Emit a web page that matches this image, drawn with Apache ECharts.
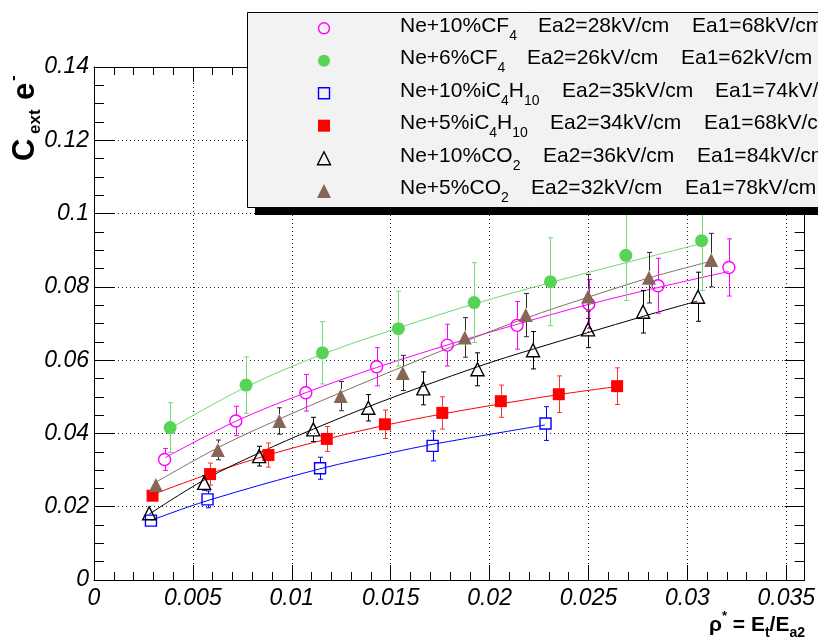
<!DOCTYPE html>
<html><head><meta charset="utf-8">
<script src="https://cdn.jsdelivr.net/npm/echarts@6/dist/echarts.min.js"></script>
<style>html,body{margin:0;padding:0;background:#fff}#c{width:818px;height:639px}</style>
</head><body><div id="c"></div>
<script>
// ---------------- data ----------------
const xTicks = [0, 0.005, 0.01, 0.015, 0.02, 0.025, 0.03, 0.035];
const yTicks = [0, 0.02, 0.04, 0.06, 0.08, 0.1, 0.12, 0.14];

// Ne+10%CF4  (magenta open circles)
const cf4_10_rho = [0.00357, 0.00717, 0.01071, 0.01429, 0.01786, 0.02139, 0.02502, 0.02852, 0.0321];
const cf4_10_C   = [0.0329, 0.0434, 0.0511, 0.0582, 0.0641, 0.0695, 0.0753, 0.0803, 0.0853];
const cf4_10_err = [0.0030, 0.0040, 0.0050, 0.0052, 0.0057, 0.0065, 0.0067, 0.0075, 0.0078];
const cf4_10_fitRho = [0.0036, 0.0072, 0.0107, 0.0143, 0.0179, 0.0214, 0.0250, 0.0285, 0.0321];
const cf4_10_fitC   = [0.0334, 0.0434, 0.0511, 0.0580, 0.0642, 0.0698, 0.0752, 0.0798, 0.0842];

// Ne+6%CF4  (green filled circles)
const cf4_6_rho = [0.00385, 0.00769, 0.01155, 0.01539, 0.01922, 0.02308, 0.02689, 0.03072];
const cf4_6_C   = [0.0416, 0.0532, 0.0620, 0.0686, 0.0757, 0.0814, 0.0886, 0.0926];
const cf4_6_err = [0.0068, 0.0077, 0.0085, 0.0102, 0.0109, 0.0120, 0.0123, 0.0136];
const cf4_6_fitRho = [0.0038, 0.0077, 0.01155, 0.0154, 0.0192, 0.0231, 0.0269, 0.0307];
const cf4_6_fitC   = [0.0412, 0.0527, 0.0616, 0.0688, 0.0753, 0.0812, 0.0866, 0.0918];

// Ne+10%iC4H10  (blue open squares)
const ic4_10_rho = [0.00288, 0.00574, 0.01143, 0.01712, 0.02283];
const ic4_10_C   = [0.0162, 0.0220, 0.0305, 0.0366, 0.0427];
const ic4_10_err = [0.0015, 0.0023, 0.0030, 0.0041, 0.0046];
const ic4_10_fitRho = [0.0029, 0.0057, 0.0114, 0.0150, 0.0171, 0.0228];
const ic4_10_fitC   = [0.0163, 0.0216, 0.0303, 0.0347, 0.0370, 0.0423];

// Ne+5%iC4H10  (red filled squares)
const ic4_5_rho = [0.00296, 0.00587, 0.00882, 0.01177, 0.01471, 0.01761, 0.02057, 0.0235, 0.02645];
const ic4_5_C   = [0.0230, 0.0289, 0.0341, 0.0385, 0.0425, 0.0456, 0.0488, 0.0507, 0.0529];
const ic4_5_err = [0.0015, 0.0030, 0.0033, 0.0034, 0.0039, 0.0044, 0.0044, 0.0050, 0.0050];
const ic4_5_fitRho = [0.0030, 0.0059, 0.0088, 0.0118, 0.0147, 0.0176, 0.0206, 0.0235, 0.02645];
const ic4_5_fitC   = [0.0234, 0.0291, 0.0341, 0.0385, 0.0422, 0.0453, 0.0481, 0.0506, 0.0528];

// Ne+10%CO2  (black open triangles)
const co2_10_rho = [0.00279, 0.00557, 0.00835, 0.01109, 0.01387, 0.01665, 0.01939, 0.0222, 0.02498, 0.02776, 0.03054];
const co2_10_C   = [0.0182, 0.0265, 0.0338, 0.0411, 0.0470, 0.0523, 0.0575, 0.0627, 0.0684, 0.0732, 0.0773];
const co2_10_err = [0.0015, 0.0020, 0.0027, 0.0033, 0.0036, 0.0045, 0.0045, 0.0051, 0.0050, 0.0058, 0.0067];
const co2_10_fitRho = [0.0028, 0.0056, 0.0084, 0.0111, 0.0145, 0.0194, 0.0222, 0.0278, 0.0305];
const co2_10_fitC   = [0.0180, 0.0274, 0.0348, 0.0412, 0.0486, 0.0582, 0.0630, 0.0720, 0.0761];

// Ne+5%CO2  (brown filled triangles)
const co2_5_rho = [0.00313, 0.00626, 0.00937, 0.01247, 0.01561, 0.01875, 0.02183, 0.02498, 0.02806, 0.03121];
const co2_5_C   = [0.0259, 0.0355, 0.0434, 0.0502, 0.0565, 0.0662, 0.0723, 0.0774, 0.0825, 0.0873];
const co2_5_err = [0.0018, 0.0027, 0.0036, 0.0040, 0.0048, 0.0054, 0.0059, 0.0060, 0.0069, 0.0073];
const co2_5_fitRho = [0.0031, 0.0063, 0.0094, 0.0125, 0.0156, 0.0188, 0.0218, 0.0250, 0.0281, 0.0312];
const co2_5_fitC   = [0.0266, 0.0362, 0.0440, 0.0512, 0.0582, 0.0652, 0.0714, 0.0772, 0.0825, 0.0870];

// legend texts
const legGas = [
  '{n|Ne+10%CF}{s|4}',
  '{n|Ne+6%CF}{s|4}',
  '{n|Ne+10%iC}{s|4}{n|H}{s|10}',
  '{n|Ne+5%iC}{s|4}{n|H}{s|10}',
  '{n|Ne+10%CO}{s|2}',
  '{n|Ne+5%CO}{s|2}'
];
const legEa2 = ['Ea2=28kV/cm', 'Ea2=26kV/cm', 'Ea2=35kV/cm', 'Ea2=34kV/cm', 'Ea2=36kV/cm', 'Ea2=32kV/cm'];
const legEa1 = ['Ea1=68kV/cm', 'Ea1=62kV/cm', 'Ea1=74kV/cm', 'Ea1=68kV/cm', 'Ea1=84kV/cm', 'Ea1=78kV/cm'];

// ---------------- styling / layout ----------------
const FONT = '"Liberation Sans", Arial, Helvetica, sans-serif';
const X_MAX = 0.03593;
const Y_MAX = 0.14;

const sets = [
  {name: 'Ne+10%CF4', rho: cf4_10_rho, val: cf4_10_C, err: cf4_10_err, fx: cf4_10_fitRho, fy: cf4_10_fitC,
   symbol: 'circle', size: 12, fill: 'rgba(0,0,0,0)', stroke: '#ff00ff', line: '#ff00ff', bar: '#ff00ff'},
  {name: 'Ne+6%CF4', rho: cf4_6_rho, val: cf4_6_C, err: cf4_6_err, fx: cf4_6_fitRho, fy: cf4_6_fitC,
   symbol: 'circle', size: 13, fill: '#57d357', stroke: '#57d357', line: '#6ddb6d', bar: '#74da74'},
  {name: 'Ne+10%iC4H10', rho: ic4_10_rho, val: ic4_10_C, err: ic4_10_err, fx: ic4_10_fitRho, fy: ic4_10_fitC,
   symbol: 'rect', size: 11, fill: 'rgba(0,0,0,0)', stroke: '#0000ff', line: '#0000ff', bar: '#0000ff'},
  {name: 'Ne+5%iC4H10', rho: ic4_5_rho, val: ic4_5_C, err: ic4_5_err, fx: ic4_5_fitRho, fy: ic4_5_fitC,
   symbol: 'rect', size: 12, fill: '#ff0000', stroke: '#ff0000', line: '#ff0000', bar: '#ff3030'},
  {name: 'Ne+10%CO2', rho: co2_10_rho, val: co2_10_C, err: co2_10_err, fx: co2_10_fitRho, fy: co2_10_fitC,
   symbol: 'triangle', size: 13, fill: 'rgba(0,0,0,0)', stroke: '#000000', line: '#000000', bar: '#000000'},
  {name: 'Ne+5%CO2', rho: co2_5_rho, val: co2_5_C, err: co2_5_err, fx: co2_5_fitRho, fy: co2_5_fitC,
   symbol: 'triangle', size: 14, fill: '#876657', stroke: '#876657', line: '#8a6d5f', bar: '#2a2a2a'}
];

function errRender(color, gap) {
  return function (params, api) {
    const x = api.value(0), y = api.value(1), e = api.value(2);
    const p = api.coord([x, y]);
    const t = api.coord([x, y + e]);
    const b = api.coord([x, y - e]);
    const cx = Math.round(p[0]) + 0.5;
    const st = {stroke: color, lineWidth: 1};
    const ch = [];
    if (p[1] - gap > t[1]) {
      ch.push({type: 'line', shape: {x1: cx, y1: t[1], x2: cx, y2: p[1] - gap}, style: st});
      ch.push({type: 'line', shape: {x1: cx - 2.5, y1: t[1], x2: cx + 2.5, y2: t[1]}, style: st});
    }
    if (b[1] > p[1] + gap) {
      ch.push({type: 'line', shape: {x1: cx, y1: p[1] + gap, x2: cx, y2: b[1]}, style: st});
      ch.push({type: 'line', shape: {x1: cx - 2.5, y1: b[1], x2: cx + 2.5, y2: b[1]}, style: st});
    }
    return {type: 'group', children: ch};
  };
}

const series = [];
sets.forEach(function (s) {
  series.push({
    type: 'line', name: s.name + ' fit', silent: true, smooth: 0.35, showSymbol: false, z: 2,
    data: s.fx.map(function (v, i) { return [v, s.fy[i]]; }),
    lineStyle: {color: s.line, width: 1}
  });
});
sets.forEach(function (s) {
  series.push({
    type: 'custom', name: s.name + ' err', silent: true, z: 3, clip: false,
    renderItem: errRender(s.bar, s.size / 2),
    encode: {x: 0, y: 1},
    data: s.rho.map(function (v, i) { return [v, s.val[i], s.err[i]]; })
  });
});
sets.forEach(function (s) {
  series.push({
    type: 'scatter', name: s.name, silent: true, z: 4,
    symbol: s.symbol, symbolSize: s.size,
    itemStyle: {color: s.fill, borderColor: s.stroke, borderWidth: s.fill === 'rgba(0,0,0,0)' ? 1.4 : 0, opacity: 1},
    data: s.rho.map(function (v, i) { return [v, s.val[i]]; })
  });
});

const labelStyle = {color: '#000', fontFamily: FONT, fontStyle: 'italic', fontSize: 23};
const gridLine = {show: true, lineStyle: {color: '#222', width: 1, type: [1, 3]}};

function xAx(pos, interval, len, main) {
  return {
    type: 'value', position: pos, min: 0, max: X_MAX, interval: interval,
    axisLine: {show: main, onZero: false, lineStyle: {color: '#000', width: 1}},
    axisTick: {show: true, inside: true, length: len, lineStyle: {color: '#000', width: 1}},
    axisLabel: (main && pos === 'bottom') ? Object.assign({show: true, margin: 7,
      customValues: xTicks}, labelStyle) : {show: false},
    splitLine: (main && pos === 'bottom') ? gridLine : {show: false}
  };
}
function yAx(pos, main) {
  return {
    type: 'value', position: pos, min: 0, max: Y_MAX, interval: 0.02,
    axisLine: {show: true, onZero: false, lineStyle: {color: '#000', width: 1}},
    axisTick: {show: true, inside: true, length: 20, lineStyle: {color: '#000', width: 1}},
    minorTick: {show: true, splitNumber: 4, length: 10, lineStyle: {color: '#000', width: 1}},
    axisLabel: main ? Object.assign({show: true, margin: 5, customValues: yTicks}, labelStyle) : {show: false},
    splitLine: main ? gridLine : {show: false}
  };
}

// ---------------- legend (drawn as graphics) ----------------
const LX = 247, LY = 12, LH = 195, LW = 620;
const rowY = [28.3, 60.7, 93.3, 125.7, 158.3, 191];
const ea2X = [538, 527, 562, 550, 543, 531];
const ea1X = [692, 681, 715, 704, 697, 685];
const mx = 324;
const legend = [
  {type: 'rect', shape: {x: LX + 8, y: LY + 8, width: LW, height: LH}, style: {fill: '#000'}, z: 100},
  {type: 'rect', shape: {x: LX + 0.5, y: LY + 0.5, width: LW, height: LH}, style: {fill: '#f2f2f2', stroke: '#000', lineWidth: 1}, z: 101}
];
sets.forEach(function (s, i) {
  const y = rowY[i];
  let el;
  if (s.symbol === 'circle') {
    el = {type: 'circle', shape: {cx: mx, cy: y, r: s.size / 2 - 0.5}};
  } else if (s.symbol === 'rect') {
    el = {type: 'rect', shape: {x: mx - s.size / 2, y: y - s.size / 2, width: s.size, height: s.size}};
  } else {
    const h = s.size;
    el = {type: 'polygon', shape: {points: [[mx, y - h / 2], [mx + h / 2, y + h / 2], [mx - h / 2, y + h / 2]]}};
  }
  el.style = {fill: s.fill === 'rgba(0,0,0,0)' ? 'none' : s.fill, stroke: s.stroke, lineWidth: s.fill === 'rgba(0,0,0,0)' ? 1.4 : 0};
  el.z = 102;
  legend.push(el);
  legend.push({type: 'text', x: 400, y: y - 2.5, z: 102, style: {
    text: legGas[i], align: 'left', verticalAlign: 'middle',
    rich: {
      n: {fontFamily: FONT, fontSize: 21, fill: '#000', lineHeight: 34},
      s: {fontFamily: FONT, fontSize: 14, fill: '#000', lineHeight: 14, verticalAlign: 'bottom'}
    }}});
  legend.push({type: 'text', x: ea2X[i], y: y - 2.5, z: 102, style: {text: legEa2[i], fontFamily: FONT, fontSize: 21, fill: '#000', align: 'left', verticalAlign: 'middle'}});
  legend.push({type: 'text', x: ea1X[i], y: y - 2.5, z: 102, style: {text: legEa1[i], fontFamily: FONT, fontSize: 21, fill: '#000', align: 'left', verticalAlign: 'middle'}});
});

// axis titles
const titles = [
  {type: 'group', x: 25, y: 161, rotation: Math.PI / 2, z: 50, children: [
    {type: 'text', x: 0, y: 0, style: {text: 'C', fontFamily: FONT, fontWeight: 'bold', fontSize: 31, fill: '#000', align: 'left', verticalAlign: 'middle'}},
    {type: 'text', x: 27, y: 10, style: {text: 'ext', fontFamily: FONT, fontWeight: 'bold', fontSize: 17, fill: '#000', align: 'left', verticalAlign: 'middle'}},
    {type: 'text', x: 61, y: 0, style: {text: 'e', fontFamily: FONT, fontWeight: 'bold', fontSize: 31, fill: '#000', align: 'left', verticalAlign: 'middle'}},
    {type: 'text', x: 80, y: -12, style: {text: '-', fontFamily: FONT, fontWeight: 'bold', fontSize: 17, fill: '#000', align: 'left', verticalAlign: 'middle'}}
  ]},
  {type: 'text', x: 805, y: 625, z: 50, style: {
    text: '{m|ρ}{p|*}{m| = E}{b|t}{m|/E}{b|a2}', align: 'right', verticalAlign: 'middle',
    rich: {
      m: {fontFamily: FONT, fontWeight: 'bold', fontSize: 21, fill: '#000', lineHeight: 30},
      p: {fontFamily: FONT, fontWeight: 'bold', fontSize: 13, fill: '#000', lineHeight: 13, verticalAlign: 'top'},
      b: {fontFamily: FONT, fontWeight: 'bold', fontSize: 14, fill: '#000', lineHeight: 14, verticalAlign: 'bottom'}
    }}}
];

const chart = echarts.init(document.getElementById('c'), null, {renderer: 'canvas'});
chart.setOption({
  animation: false,
  backgroundColor: '#fff',
  grid: {left: 94, right: 13, top: 67, bottom: 59, containLabel: false},
  xAxis: [xAx('bottom', 0.005, 15, true), xAx('bottom', 0.001, 8, false), xAx('top', 0.005, 15, true), xAx('top', 0.001, 8, false)],
  yAxis: [yAx('left', true), yAx('right', false)],
  series: series,
  graphic: {elements: legend.concat(titles)}
});
</script></body></html>
